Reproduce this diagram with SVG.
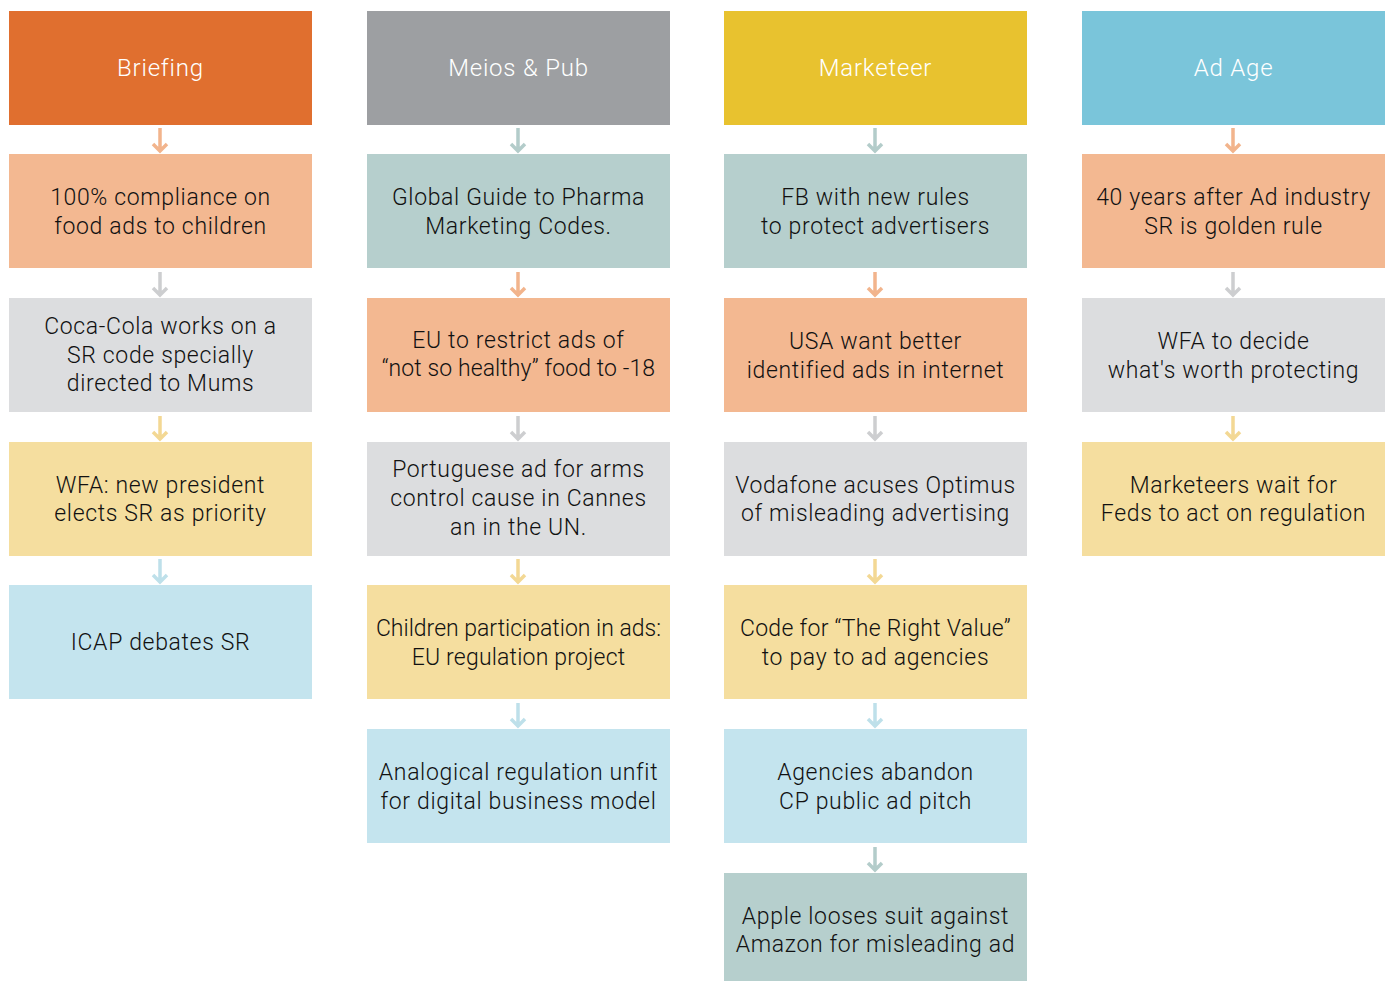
<svg xmlns="http://www.w3.org/2000/svg" width="1389" height="981" viewBox="0 0 1389 981">
  <style>
    text { font-family: "Roboto", "Liberation Sans", sans-serif; font-size: 23px; font-weight: 300; letter-spacing: 0.65px; fill: #111111; text-anchor: middle; }
    text.hd { fill: #ffffff; font-size: 24px; font-weight: 300; letter-spacing: 0.8px; }
    .orange { fill: #E06F2F; }
    .grey { fill: #9D9FA2; }
    .gold { fill: #E8C22F; }
    .sky { fill: #7AC5DA; }
    .peach { fill: #F3B891; }
    .teal { fill: #B6CFCD; }
    .lgrey { fill: #DCDDDF; }
    .pale { fill: #F5DE9F; }
    .blue { fill: #C4E4EE; }
    .arr { fill: none; stroke-width: 3.5; }
    .a-peach { stroke: #F2B48C; }
    .a-teal { stroke: #B3CCCA; }
    .a-grey { stroke: #CDCED0; }
    .a-pale { stroke: #F3D894; }
    .a-blue { stroke: #BEE0EA; }
  </style>

  <!-- column 1: Briefing -->
  <g id="briefing"><rect class="orange" x="9" y="11" width="303" height="114"/><text class="hd" x="160.5" y="76">Briefing</text></g>
  <g id="b1"><rect class="peach" x="9" y="154" width="303" height="114"/><text x="160.5" y="205">100% compliance on</text><text x="160.5" y="234">food ads to children</text></g>
  <g id="b2"><rect class="lgrey" x="9" y="298" width="303" height="114"/><text x="160.5" y="334">Coca-Cola works on a</text><text x="160.5" y="363">SR code specially</text><text x="160.5" y="391">directed to Mums</text></g>
  <g id="b3"><rect class="pale" x="9" y="442" width="303" height="114"/><text x="160.5" y="493">WFA: new president</text><text x="160.5" y="521">elects SR as priority</text></g>
  <g id="b4"><rect class="blue" x="9" y="585" width="303" height="114"/><text x="160.5" y="650">ICAP debates SR</text></g>

  <!-- column 2: Meios & Pub -->
  <g id="meios"><rect class="grey" x="367" y="11" width="303" height="114"/><text class="hd" x="518.5" y="76">Meios &amp; Pub</text></g>
  <g id="m1"><rect class="teal" x="367" y="154" width="303" height="114"/><text x="518.5" y="205">Global Guide to Pharma</text><text x="518.5" y="234">Marketing Codes.</text></g>
  <g id="m2"><rect class="peach" x="367" y="298" width="303" height="114"/><text x="518.5" y="348">EU to restrict ads of</text><text x="518.5" y="376" style="letter-spacing:0.1px">“not so healthy” food to -18</text></g>
  <g id="m3"><rect class="lgrey" x="367" y="442" width="303" height="114"/><text x="518.5" y="477">Portuguese ad for arms</text><text x="518.5" y="506">control cause in Cannes</text><text x="518.5" y="535">an in the UN.</text></g>
  <g id="m4"><rect class="pale" x="367" y="585" width="303" height="114"/><text x="518.5" y="636" style="letter-spacing:0px">Children participation in ads:</text><text x="518.5" y="665" style="letter-spacing:0.2px">EU regulation project</text></g>
  <g id="m5"><rect class="blue" x="367" y="729" width="303" height="114"/><text x="518.5" y="780">Analogical regulation unfit</text><text x="518.5" y="809">for digital business model</text></g>

  <!-- column 3: Marketeer -->
  <g id="marketeer"><rect class="gold" x="724" y="11" width="303" height="114"/><text class="hd" x="875.5" y="76">Marketeer</text></g>
  <g id="k1"><rect class="teal" x="724" y="154" width="303" height="114"/><text x="875.5" y="205">FB with new rules</text><text x="875.5" y="234">to protect advertisers</text></g>
  <g id="k2"><rect class="peach" x="724" y="298" width="303" height="114"/><text x="875.5" y="349">USA want better</text><text x="875.5" y="378">identified ads in internet</text></g>
  <g id="k3"><rect class="lgrey" x="724" y="442" width="303" height="114"/><text x="875.5" y="493">Vodafone acuses Optimus</text><text x="875.5" y="521">of misleading advertising</text></g>
  <g id="k4"><rect class="pale" x="724" y="585" width="303" height="114"/><text x="875.5" y="636" style="letter-spacing:0.3px">Code for “The Right Value”</text><text x="875.5" y="665">to pay to ad agencies</text></g>
  <g id="k5"><rect class="blue" x="724" y="729" width="303" height="114"/><text x="875.5" y="780">Agencies abandon</text><text x="875.5" y="809">CP public ad pitch</text></g>
  <g id="k6"><rect class="teal" x="724" y="873" width="303" height="114"/><text x="875.5" y="924">Apple looses suit against</text><text x="875.5" y="952">Amazon for misleading ad</text></g>

  <!-- column 4: Ad Age -->
  <g id="adage"><rect class="sky" x="1082" y="11" width="303" height="114"/><text class="hd" x="1233.5" y="76">Ad Age</text></g>
  <g id="g1"><rect class="peach" x="1082" y="154" width="303" height="114"/><text x="1233.5" y="205">40 years after Ad industry</text><text x="1233.5" y="234">SR is golden rule</text></g>
  <g id="g2"><rect class="lgrey" x="1082" y="298" width="303" height="114"/><text x="1233.5" y="349">WFA to decide</text><text x="1233.5" y="378">what's worth protecting</text></g>
  <g id="g3"><rect class="pale" x="1082" y="442" width="303" height="114"/><text x="1233.5" y="493">Marketeers wait for</text><text x="1233.5" y="521">Feds to act on regulation</text></g>

  <!-- connectors -->
  <g id="connectors">
    <path class="arr a-peach" d="M160 128V151M153 144L160 151L167 144"/>
    <path class="arr a-grey" d="M160 272V295M153 288L160 295L167 288"/>
    <path class="arr a-pale" d="M160 416V439M153 432L160 439L167 432"/>
    <path class="arr a-blue" d="M160 559V582M153 575L160 582L167 575"/>

    <path class="arr a-teal" d="M518 128V151M511 144L518 151L525 144"/>
    <path class="arr a-peach" d="M518 272V295M511 288L518 295L525 288"/>
    <path class="arr a-grey" d="M518 416V439M511 432L518 439L525 432"/>
    <path class="arr a-pale" d="M518 559V582M511 575L518 582L525 575"/>
    <path class="arr a-blue" d="M518 703V726M511 719L518 726L525 719"/>

    <path class="arr a-teal" d="M875 128V151M868 144L875 151L882 144"/>
    <path class="arr a-peach" d="M875 272V295M868 288L875 295L882 288"/>
    <path class="arr a-grey" d="M875 416V439M868 432L875 439L882 432"/>
    <path class="arr a-pale" d="M875 559V582M868 575L875 582L882 575"/>
    <path class="arr a-blue" d="M875 703V726M868 719L875 726L882 719"/>
    <path class="arr a-teal" d="M875 847V870M868 863L875 870L882 863"/>

    <path class="arr a-peach" d="M1233 128V151M1226 144L1233 151L1240 144"/>
    <path class="arr a-grey" d="M1233 272V295M1226 288L1233 295L1240 288"/>
    <path class="arr a-pale" d="M1233 416V439M1226 432L1233 439L1240 432"/>
  </g>
</svg>
